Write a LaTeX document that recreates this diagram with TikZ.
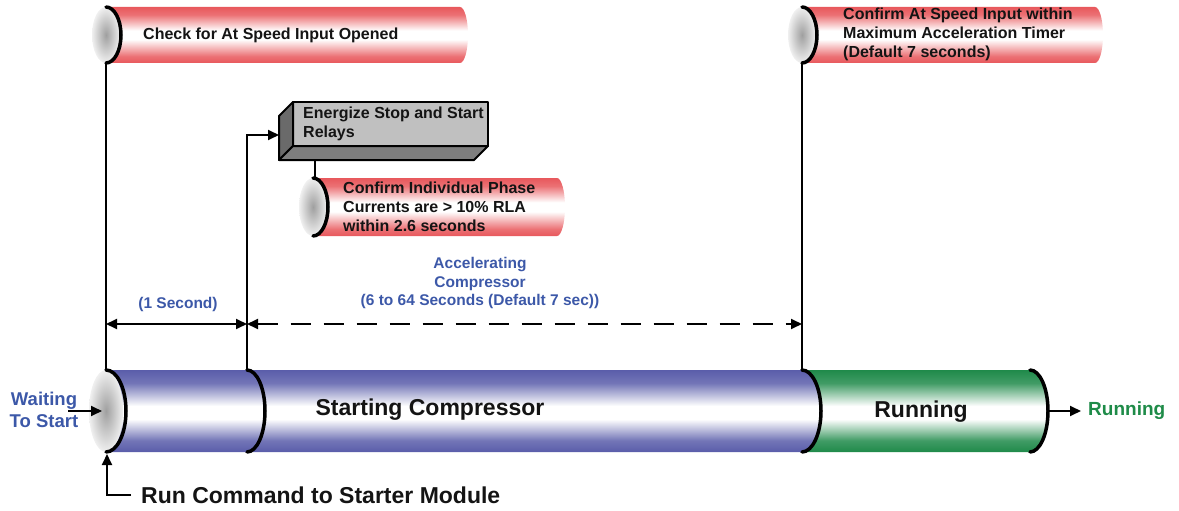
\documentclass[tikz,border=0pt]{standalone}
\usepackage{fontspec}
\setmainfont{Liberation Sans}
\usetikzlibrary{arrows.meta}
\definecolor{redc}{HTML}{E8585C}
\definecolor{bluec}{HTML}{5A5DAA}
\definecolor{greenc}{HTML}{1F8A4A}
\definecolor{bluetext}{HTML}{3C58A8}
\definecolor{greentext}{HTML}{1E8B48}
\definecolor{txt}{HTML}{141414}
\definecolor{boxfront}{HTML}{C0C0C0}
\definecolor{boxleft}{HTML}{6A6A6A}
\definecolor{boxbottom}{HTML}{7E7E7E}
\pgfdeclareverticalshading{redtube}{100bp}{color(0bp)=(redc); color(25bp)=(redc); color(31bp)=(redc!85!white); color(46bp)=(white); color(54bp)=(white); color(68bp)=(redc!85!white); color(75bp)=(redc); color(100bp)=(redc)}
\pgfdeclareverticalshading{bluetube}{100bp}{color(0bp)=(bluec); color(25bp)=(bluec); color(32bp)=(bluec!85!white); color(45bp)=(white); color(53bp)=(white); color(67bp)=(bluec!85!white); color(75bp)=(bluec); color(100bp)=(bluec)}
\pgfdeclareverticalshading{greentube}{100bp}{color(0bp)=(greenc); color(25bp)=(greenc); color(32bp)=(greenc!85!white); color(45bp)=(white); color(53bp)=(white); color(67bp)=(greenc!85!white); color(75bp)=(greenc); color(100bp)=(greenc)}
\tikzset{
  lbl/.style={font=\fontsize{16}{19}\selectfont\bfseries, text=txt, align=left, inner sep=0pt},
  big/.style={font=\fontsize{23}{27}\selectfont\bfseries, text=txt, inner sep=0pt},
  blu/.style={font=\fontsize{15.5}{18.5}\selectfont\bfseries, text=bluetext, align=center, inner sep=0pt},
  conn/.style={line width=1.8pt, draw=black},
  arr/.style={conn, -{Triangle[length=11pt,width=10pt]}},
  capline/.style={line width=3.5pt, line cap=round, draw=black},
  redshade/.style={shading=redtube},
  blueshade/.style={shading=bluetube},
  greenshade/.style={shading=greentube},
  disc/.style={inner color=gray!75, outer color=gray!12},
  boxline/.style={draw=black, line width=2pt, line join=round},
}
\begin{document}
\begin{tikzpicture}[x=1pt,y=-1pt]
\useasboundingbox (0,0) rectangle (1179,511);

% ---------- top-left red tube
\shade[redshade] (106,7) -- (460,7) arc[start angle=-90,end angle=90,x radius=8,y radius=28] -- (106,63) -- cycle;
\shade[disc] (106,35) ellipse[x radius=14, y radius=28];
\draw[capline] (106,7) arc[start angle=-90,end angle=90,x radius=15,y radius=28];
\node[lbl, anchor=west] (t1txt) at (143,35) {Check for At Speed Input Opened};

% ---------- top-right red tube
\shade[redshade] (802,7) -- (1095,7) arc[start angle=-90,end angle=90,x radius=8,y radius=28] -- (802,63) -- cycle;
\shade[disc] (802,35) ellipse[x radius=14, y radius=28];
\draw[capline] (802,7) arc[start angle=-90,end angle=90,x radius=15,y radius=28];
\node[lbl, anchor=west] (t3txt) at (843,34.5) {Confirm At Speed Input within\\Maximum Acceleration Timer\\(Default 7 seconds)};

% ---------- box
\filldraw[fill=boxfront, boxline] (293,102) rectangle (488,146);
\filldraw[fill=boxleft, boxline] (293,102) -- (279,116) -- (279,160) -- (293,146) -- cycle;
\filldraw[fill=boxbottom, boxline] (293,146) -- (279,160) -- (474,160) -- (488,146) -- cycle;
\node[lbl, anchor=west] (boxtxt) at (303,123.5) {Energize Stop and Start\\Relays};

% ---------- middle red tube
\shade[redshade] (313,178) -- (557,178) arc[start angle=-90,end angle=90,x radius=8,y radius=29] -- (313,236) -- cycle;
\shade[disc] (313,207) ellipse[x radius=14, y radius=29];
\draw[capline] (313,178) arc[start angle=-90,end angle=90,x radius=15,y radius=29];
\node[lbl, anchor=west] (t2txt) at (343,207) {Confirm Individual Phase\\Currents are > 10\% RLA\\within 2.6 seconds};

% ---------- main tube
\shade[blueshade] (106,370) -- (802,370) arc[start angle=-90,end angle=90,x radius=19,y radius=41] -- (106,452) -- cycle;
\shade[greenshade] (802,370) -- (1030,370) arc[start angle=-90,end angle=90,x radius=18,y radius=41] -- (802,452) arc[start angle=90,end angle=-90,x radius=19,y radius=41] -- cycle;
\shade[disc] (106,411) ellipse[x radius=17, y radius=41];
\draw[capline] (106,370) arc[start angle=-90,end angle=90,x radius=20,y radius=41];
\draw[capline] (247,370) arc[start angle=-90,end angle=90,x radius=18,y radius=41];
\draw[capline] (802,370) arc[start angle=-90,end angle=90,x radius=19,y radius=41];
\draw[capline] (1030,370) arc[start angle=-90,end angle=90,x radius=18,y radius=41];
\node[big] (sc) at (430,410) {Starting Compressor};
\node[big] (rn) at (921,412) {Running};

% ---------- coordinates
\coordinate (t1b) at (106,63);
\coordinate (m0t) at (106,370);
\coordinate (m1t) at (247,370);
\coordinate (boxin) at (279,135);
\coordinate (boxb) at (315,160);
\coordinate (t2t) at (315,178);
\coordinate (t3b) at (802,63);
\coordinate (m2t) at (802,370);
\coordinate (d0) at (106,324);
\coordinate (d1) at (247,324);
\coordinate (d2) at (802,324);
\coordinate (wstart) at (68,411);
\coordinate (discL) at (102,411);
\coordinate (m0b) at (107,454);
\coordinate (gend) at (1048,411);

% ---------- connectors
\draw[conn] (t1b) -- (m0t);
\draw[arr] (m1t) |- (boxin);
\draw[conn] (boxb) -- (t2t);
\draw[conn] (t3b) -- (m2t);
\draw[conn, {Triangle[length=11pt,width=10pt]}-{Triangle[length=11pt,width=10pt]}] (d0) -- (d1);
\draw[conn, dash pattern=on 20pt off 13pt, {Triangle[length=11pt,width=10pt]}-{Triangle[length=11pt,width=10pt]}] (d1) -- (d2);

% ---------- labels
\node[blu] (onesec) at (178,304) {(1 Second)};
\node[blu] (accel) at (480,283) {Accelerating\\Compressor\\(6 to 64 Seconds (Default 7 sec))};
\node[font=\fontsize{18.5}{22}\selectfont\bfseries, text=bluetext, align=center, inner sep=0pt] (wait) at (44,410) {Waiting\\To Start};
\draw[arr] (wstart) -- (discL);
\node[big, anchor=west] (run) at (141,495) {Run Command to Starter Module};
\draw[arr] ([xshift=-10pt]run.west) -| (m0b);
\node[font=\fontsize{19}{22}\selectfont\bfseries, text=greentext, inner sep=0pt, anchor=west] (runout) at (1088,411) {Running};
\draw[arr] (gend) -- ([xshift=-7pt]runout.west);
\end{tikzpicture}
\end{document}
